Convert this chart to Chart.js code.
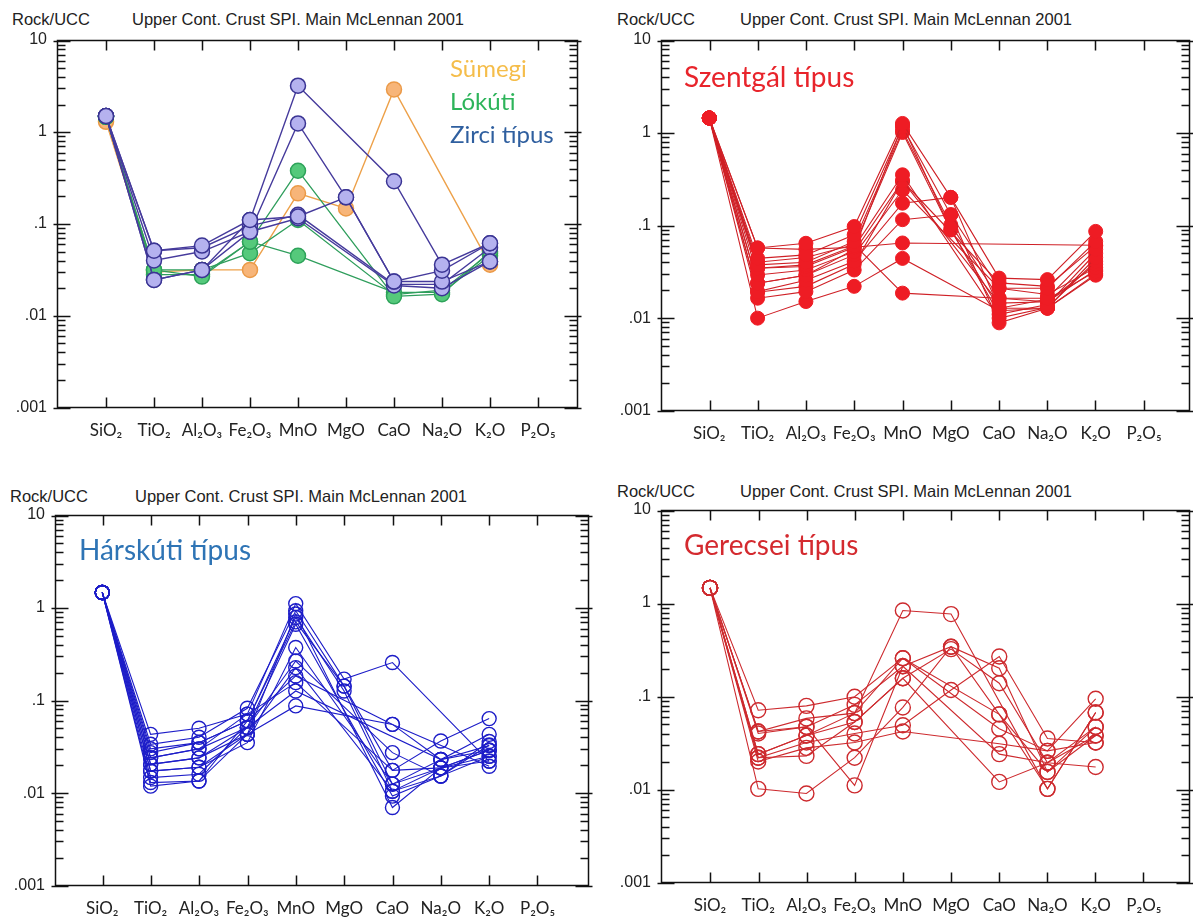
<!DOCTYPE html>
<html>
<head>
<meta charset="utf-8">
<script src="https://cdn.jsdelivr.net/npm/chart.js@4.4.1/dist/chart.umd.min.js"></script>
<style>
  body { margin: 0; background: #fff; width: 1193px; height: 917px; position: relative; overflow: hidden; }
  canvas { position: absolute; }
  .hdr { position: absolute; font-family: "Liberation Sans", Arial, sans-serif; font-size: 16.5px; line-height: 17px; color: #222; white-space: nowrap; }
  .lbl { position: absolute; font-family: Lato, "Open Sans", sans-serif; line-height: 1; white-space: nowrap; z-index: 3; }
</style>
</head>
<body>

<div class="hdr" style="left:12px; top:11px;">Rock/UCC</div>
<div class="hdr" style="left:132px; top:11px;">Upper Cont. Crust SPI. Main McLennan 2001</div>
<div class="hdr" style="left:617px; top:11px;">Rock/UCC</div>
<div class="hdr" style="left:740px; top:11px;">Upper Cont. Crust SPI. Main McLennan 2001</div>
<div class="hdr" style="left:10px; top:488px;">Rock/UCC</div>
<div class="hdr" style="left:135px; top:488px;">Upper Cont. Crust SPI. Main McLennan 2001</div>
<div class="hdr" style="left:617px; top:483px;">Rock/UCC</div>
<div class="hdr" style="left:740px; top:483px;">Upper Cont. Crust SPI. Main McLennan 2001</div>

<canvas id="c1"></canvas>
<canvas id="c2"></canvas>
<canvas id="c3"></canvas>
<canvas id="c4"></canvas>

<div class="lbl" style="left:450px; top:56px; font-size:24px; color:#f5bd4a;">Sümegi</div>
<div class="lbl" style="left:450px; top:89px; font-size:24px; color:#2db45a;">Lókúti</div>
<div class="lbl" style="left:450px; top:122px; font-size:24px; color:#2f5f9f;">Zirci típus</div>
<div class="lbl" style="left:684px; top:62px; font-size:28px; color:#e8242b;">Szentgál típus</div>
<div class="lbl" style="left:79px; top:535px; font-size:28px; color:#2e74b5;">Hárskúti típus</div>
<div class="lbl" style="left:684px; top:530px; font-size:28px; color:#d42a2f;">Gerecsei típus</div>

<script>
// categories and axis labels
const oxides = ['SiO₂', 'TiO₂', 'Al₂O₃', 'Fe₂O₃', 'MnO', 'MgO', 'CaO', 'Na₂O', 'K₂O', 'P₂O₅'];
const yTickLabels = ['.001', '.01', '.1', '1', '10'];

// Rock/UCC values, one row per sample, in the order of oxides
const zirci = [
    [1.48, 0.051, 0.058, 0.110, 3.16, null, 0.29, 0.036, 0.0615, null],
    [1.48, 0.040, 0.050, 0.082, 1.23, 0.194, 0.0236, 0.031, 0.0615, null],
    [1.48, 0.0246, 0.0316, 0.110, 0.12, 0.194, 0.0236, 0.0236, 0.039, null],
    [1.48, 0.0246, 0.0316, 0.082, 0.115, null, 0.0214, 0.020, 0.039, null],
    [1.48, 0.051, 0.055, 0.095, 0.125, null, 0.022, 0.022, 0.055, null]
];
const lokuti = [
    [1.45, 0.0316, 0.0267, 0.064, 0.377, null, 0.0163, 0.0172, 0.050, null],
    [1.45, 0.028, 0.028, 0.064, 0.045, null, 0.018, 0.018, 0.045, null],
    [1.45, 0.0316, 0.0316, 0.048, 0.11, null, 0.017, 0.019, 0.048, null]
];
const sumegi = [
    [1.28, 0.030, 0.0316, 0.0316, 0.214, 0.147, 2.88, null, 0.036, null]
];
const szentgal = [
    [1.43, 0.057, 0.064, 0.097, 1.25, 0.20, 0.027, 0.026, 0.086, null],
    [1.43, 0.044, 0.048, 0.079, 1.15, 0.13, 0.021, 0.021, 0.067, null],
    [1.43, 0.0375, 0.040, 0.067, 1.05, 0.101, 0.0164, 0.0164, 0.055, null],
    [1.43, 0.0345, 0.0375, 0.060, 1.00, 0.089, 0.0128, 0.0128, 0.045, null],
    [1.43, 0.0345, 0.036, 0.058, 0.35, null, 0.010, 0.013, 0.041, null],
    [1.43, 0.0292, 0.033, 0.052, 0.30, null, 0.0145, 0.015, 0.038, null],
    [1.43, 0.0238, 0.029, 0.048, 0.24, null, 0.021, 0.018, 0.035, null],
    [1.43, 0.0193, 0.0256, 0.041, 0.173, 0.20, 0.0128, 0.016, 0.032, null],
    [1.43, 0.0164, 0.0193, 0.033, 0.115, 0.13, 0.0089, 0.0128, 0.029, null],
    [1.43, 0.010, 0.0151, 0.022, 0.044, null, 0.012, 0.0128, 0.030, null],
    [1.43, 0.057, 0.055, 0.058, 0.0645, null, null, null, 0.061, null],
    [1.43, 0.040, 0.045, 0.062, 0.0186, null, 0.0164, 0.015, 0.033, null],
    [1.43, 0.0238, 0.029, 0.055, 1.20, 0.09, 0.011, 0.014, 0.050, null],
    [1.43, 0.019, 0.022, 0.038, 0.30, null, 0.024, 0.022, 0.060, null]
];
const harskuti = [
    [1.45, 0.043, 0.050, 0.071, 1.10, 0.169, 0.255, null, 0.022, null],
    [1.45, 0.0336, 0.040, 0.082, 0.92, 0.142, 0.0176, 0.0187, 0.029, null],
    [1.45, 0.0273, 0.035, 0.060, 0.78, 0.126, 0.0105, 0.0153, 0.033, null],
    [1.45, 0.024, 0.030, 0.051, 0.66, null, 0.0093, 0.0153, 0.036, null],
    [1.45, 0.0204, 0.024, 0.043, 0.85, null, 0.0070, 0.0187, 0.029, null],
    [1.45, 0.0173, 0.019, 0.035, 0.37, null, 0.0125, 0.023, 0.0325, null],
    [1.45, 0.0147, 0.016, 0.051, 0.265, null, 0.0273, 0.0153, 0.025, null],
    [1.45, 0.013, 0.0135, 0.043, 0.225, null, 0.0105, 0.0187, 0.0222, null],
    [1.45, 0.0119, 0.0135, 0.060, 0.183, null, 0.055, null, 0.0195, null],
    [1.45, 0.024, 0.030, 0.071, 0.155, null, 0.0176, 0.0365, 0.0635, null],
    [1.45, 0.0204, 0.024, 0.051, 0.126, null, null, 0.023, 0.043, null],
    [1.45, 0.0173, 0.019, 0.043, 0.087, null, 0.055, 0.023, 0.029, null],
    [1.45, 0.030, 0.035, 0.060, 0.70, 0.142, 0.0125, 0.0187, 0.025, null]
];
const gerecsei = [
    [1.45, 0.071, 0.079, 0.099, 0.256, null, 0.045, 0.026, 0.094, null],
    [1.45, 0.042, 0.058, 0.066, 0.83, 0.76, null, 0.0102, 0.067, null],
    [1.45, 0.040, 0.047, 0.081, 0.21, 0.34, 0.20, 0.0155, 0.047, null],
    [1.45, 0.024, 0.038, 0.053, 0.156, 0.32, 0.138, 0.0194, 0.038, null],
    [1.45, 0.022, 0.032, 0.040, 0.049, 0.117, 0.267, 0.0353, 0.032, null],
    [1.45, 0.020, 0.028, 0.032, 0.042, null, 0.031, 0.026, 0.032, null],
    [1.45, 0.0102, 0.0091, 0.022, 0.076, 0.34, 0.064, 0.0155, 0.038, null],
    [1.45, 0.042, 0.047, 0.0111, 0.21, null, 0.024, 0.0194, 0.047, null],
    [1.45, 0.022, 0.023, 0.053, 0.156, null, 0.0121, 0.0194, 0.0175, null],
    [1.45, 0.024, 0.038, 0.066, 0.256, null, 0.064, 0.0102, 0.067, null]
];

// plot box with inward ticks; positions from the chart area and the axis ranges
function drawFrame(ctx, chart) {
    const a = chart.chartArea;
    const L = Math.round(a.left) + 0.5, R = Math.round(a.right) - 0.5;
    const T = Math.round(a.top) + 0.5, B = Math.round(a.bottom) - 0.5;
    const xmin = chart.options.scales.x.min, xmax = chart.options.scales.x.max;
    const yPix = v => B - (Math.log10(v) + 3) / 4 * (B - T);
    const xPix = i => L + (i - xmin) / (xmax - xmin) * (R - L);

    ctx.save();
    ctx.strokeStyle = '#111';
    ctx.lineWidth = 1.5;
    ctx.strokeRect(L, T, R - L, B - T);
    ctx.lineWidth = 1.5;
    ctx.beginPath();
    for (let d = -3; d <= 1; d++) {
        for (let k = 1; k <= 9; k++) {
            const v = k * Math.pow(10, d);
            if (v > 10.0001) break;
            const py = Math.round(yPix(v)) + 0.5;
            const len = k === 1 ? 13 : 8;
            ctx.moveTo(L - (k === 1 ? 4 : 0), py);
            ctx.lineTo(L + len, py);
            ctx.moveTo(R + (k === 1 ? 4 : 0), py);
            ctx.lineTo(R - len, py);
        }
    }
    for (let i = 0; i < oxides.length; i++) {
        const px = Math.round(xPix(i)) + 0.5;
        ctx.moveTo(px, T);
        ctx.lineTo(px, T + 10);
        ctx.moveTo(px, B);
        ctx.lineTo(px, B - 10);
    }
    ctx.stroke();
    ctx.restore();
}

const framePlugin = {
    id: 'frame',
    afterDraw(chart) { drawFrame(chart.ctx, chart); }
};

function series(vals, st) {
    return {
        data: vals.map((v, i) => ({ x: i, y: v })).filter(p => p.y !== null),
        borderColor: st.line,
        borderWidth: st.lw,
        pointRadius: st.r,
        pointBackgroundColor: st.fill,
        pointBorderColor: st.edge,
        pointBorderWidth: st.ew,
        fill: false,
        tension: 0
    };
}

function panelConfig(box, x0, step, datasets) {
    return {
        type: 'line',
        data: { datasets: datasets },
        options: {
            responsive: false,
            animation: false,
            devicePixelRatio: 1,
            layout: { padding: { left: 0, top: 12, right: 3, bottom: 0 } },
            plugins: { legend: { display: false }, tooltip: { enabled: false } },
            scales: {
                x: {
                    type: 'linear',
                    min: (box.l - x0) / step,
                    max: (box.r - x0) / step,
                    afterBuildTicks: s => { s.ticks = oxides.map((_, i) => ({ value: i })); },
                    afterFit: s => { s.height = 48; },
                    grid: { display: false, drawTicks: false },
                    border: { display: false },
                    ticks: {
                        callback: v => oxides[v],
                        padding: 12,
                        autoSkip: false,
                        maxRotation: 0,
                        color: '#222',
                        font: { family: 'Lato', size: 17 }
                    }
                },
                y: {
                    type: 'logarithmic',
                    min: 0.001,
                    max: 10,
                    afterBuildTicks: s => { s.ticks = yTickLabels.map((_, i) => ({ value: Math.pow(10, i - 3) })); },
                    afterFit: s => { s.width = 57; },
                    grid: { display: false, drawTicks: false },
                    border: { display: false },
                    ticks: {
                        callback: (v, i) => yTickLabels[i],
                        padding: 10,
                        autoSkip: false,
                        color: '#222',
                        font: { family: 'Liberation Sans', size: 16 }
                    }
                }
            }
        },
        plugins: [framePlugin]
    };
}

// build once to learn the margins Chart.js keeps round the plot, then size and place the canvas
function makePanel(id, box, x0, step, datasets) {
    const cv = document.getElementById(id);
    cv.width = box.r - box.l + 80;
    cv.height = box.b - box.t + 80;
    const tmp = new Chart(cv, panelConfig(box, x0, step, datasets));
    const a = tmp.chartArea;
    const m = { l: a.left, t: a.top, r: cv.width - a.right, b: cv.height - a.bottom };
    tmp.destroy();

    cv.width = Math.round(m.l + (box.r - box.l) + m.r);
    cv.height = Math.round(m.t + (box.b - box.t) + m.b);
    cv.style.left = Math.round(box.l - m.l) + 'px';
    cv.style.top = Math.round(box.t - m.t) + 'px';
    new Chart(cv, panelConfig(box, x0, step, datasets));
}

// styles
const purple = { line: '#463b9c', lw: 1.4, r: 7.5, fill: '#b5b2ef', edge: '#3b3594', ew: 1.5 };
const green = { line: '#2f9e5c', lw: 1.3, r: 7.5, fill: '#55c97b', edge: '#2ea35a', ew: 1.5 };
const orange = { line: '#eda14a', lw: 1.4, r: 7.5, fill: '#f7b579', edge: '#eb9a48', ew: 1.5 };
const redFull = { line: '#cf2026', lw: 1.1, r: 7, fill: '#ee1c24', edge: '#ee1c24', ew: 1 };
const blueOpen = { line: '#1d1dc8', lw: 1.1, r: 7, fill: 'rgba(0,0,0,0)', edge: '#1d1dc8', ew: 1.4 };
const redOpen = { line: '#cd2a2e', lw: 1.1, r: 7.5, fill: 'rgba(0,0,0,0)', edge: '#cd2a2e', ew: 1.4 };

// purple first so it lands on top
makePanel('c1', { l: 57, t: 40, r: 578, b: 408 }, 106, 48, [
    ...zirci.map(s => series(s, purple)),
    ...lokuti.map(s => series(s, green)),
    ...sumegi.map(s => series(s, orange))
]);
makePanel('c2', { l: 661, t: 40, r: 1190, b: 411 }, 709.3, 48.3, szentgal.map(s => series(s, redFull)));
makePanel('c3', { l: 55, t: 515, r: 589, b: 886 }, 102.3, 48.4, harskuti.map(s => series(s, blueOpen)));
makePanel('c4', { l: 661, t: 510, r: 1190, b: 883 }, 710, 48.2, gerecsei.map(s => series(s, redOpen)));
</script>
</body>
</html>
